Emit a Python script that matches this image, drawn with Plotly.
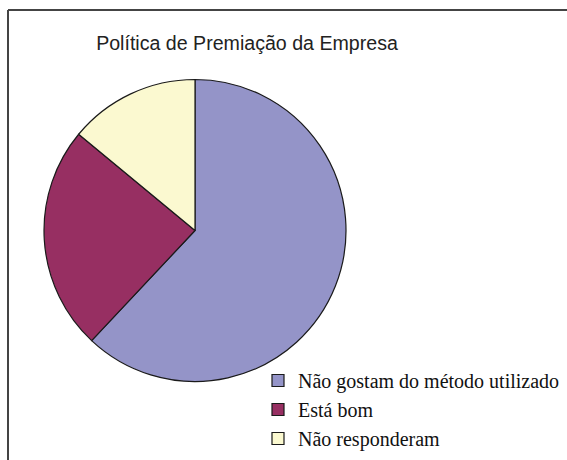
import plotly.graph_objects as go

W, H = 567, 460

labels = ["Não gostam do método utilizado", "Está bom", "Não responderam"]
values = [62, 24, 14]
colors = ["#9494C8", "#972F62", "#FBF9D0"]

# pie placement in pixels (centre and radius)
cx, cy, r = 195, 230.5, 151

fig = go.Figure(go.Pie(
    labels=labels,
    values=values,
    sort=False,
    direction="clockwise",
    rotation=0,
    textinfo="none",
    hoverinfo="label+percent",
    marker=dict(colors=colors, line=dict(color="#1a1a1a", width=1.2)),
    domain=dict(x=[(cx - r) / W, (cx + r) / W], y=[1 - (cy + r) / H, 1 - (cy - r) / H]),
))

fig.update_layout(
    width=W, height=H,
    margin=dict(l=0, r=0, t=0, b=0),
    paper_bgcolor="white",
    title=dict(
        text="Política de Premiação da Empresa",
        font=dict(family="Liberation Sans, Arial", size=19.6, color="#222"),
        x=247 / W, xanchor="center", y=1 - 43 / H, yanchor="middle",
    ),
    legend=dict(
        x=258 / W, xanchor="left", y=1 - 361 / H, yanchor="top",
        font=dict(family="Liberation Serif, Times New Roman", size=20, color="#111"),
        bgcolor="rgba(0,0,0,0)", itemwidth=30,
    ),
    shapes=[
        # top and left edges of the chart frame
        dict(type="line", xref="paper", yref="paper", x0=8 / W, x1=1.0, y0=1 - 10 / H, y1=1 - 10 / H,
             line=dict(color="#444", width=2)),
        dict(type="line", xref="paper", yref="paper", x0=8 / W, x1=8 / W, y0=1 - 10 / H, y1=0,
             line=dict(color="#444", width=2)),
    ],
)

fig.write_html("out.html")
